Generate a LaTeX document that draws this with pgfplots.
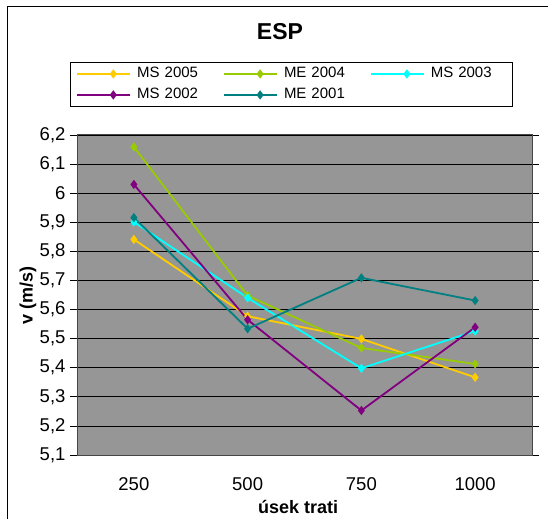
\documentclass[border=0pt]{standalone}
\usepackage{pgfplots}
\pgfplotsset{compat=1.18}
\usepackage{fontspec}
\setmainfont{Liberation Sans}
\definecolor{cMSa}{HTML}{FFCC00}
\definecolor{cMEb}{HTML}{99CC00}
\definecolor{cMSc}{HTML}{00FFFF}
\definecolor{cMSd}{HTML}{800080}
\definecolor{cMEe}{HTML}{008080}
\definecolor{plotgray}{HTML}{969696}
\begin{document}
\begin{tikzpicture}
\useasboundingbox (0pt,0pt) rectangle (548pt,519pt);
\draw[line width=1pt,black] (7pt,0pt) -- (7pt,512pt) -- (548pt,512pt);
\begin{axis}[
  at={(77pt,64pt)}, anchor=south west,
  scale only axis, width=455pt, height=320pt,
  xmin=-0.5, xmax=3.5, ymin=5.1, ymax=6.2,
  xtick={0,1,2,3}, xticklabels={250,500,750,1000},
  ytick={5.1,5.2,5.3,5.4,5.5,5.6,5.7,5.8,5.9,6.0,6.1,6.2},
  /pgf/number format/.cd, use comma, fixed, precision=1, assume math mode=true,
  /pgfplots/.cd,
  tick align=outside, major tick length=7pt,
  major x tick style={draw=none},
  major y tick style={black, line width=0.8pt},
  ymajorgrids, grid style={black, line width=0.8pt},
  axis background/.style={fill=plotgray},
  axis line style={draw=gray!55!black, line width=1pt},
  every tick label/.append style={font=\fontsize{18.5}{21}\selectfont},
  yticklabel style={xshift=-1pt},
  xticklabel style={yshift=-12pt},
  title={ESP},
  title style={font=\fontsize{23}{26}\selectfont\bfseries, at={(0.446,1.303)}, anchor=center},
  xlabel={úsek trati},
  xlabel style={font=\fontsize{18}{21}\selectfont\bfseries, at={(0.486,-0.1625)}, anchor=center},
  ylabel={v (m/s)},
  ylabel style={font=\fontsize{18}{21}\selectfont\bfseries, at={(-0.108,0.5)}, anchor=center, rotate=0},
  legend columns=3,
  legend image code/.code={
    \path (0pt,0pt) -- (53pt,0pt);
    \draw[mark repeat=2,mark phase=2,#1] plot coordinates {(19pt,0pt) (36pt,0pt) (53pt,0pt)};
  },
  legend style={
    at={(-0.01538,1.228)}, anchor=north west,
    draw=black, line width=0.8pt, fill=white,
    inner xsep=6pt, inner ysep=2.5pt,
    font=\fontsize{15}{18}\selectfont,
    row sep=3pt,
    nodes={inner xsep=3pt, inner ysep=2pt, text width=73pt, text height=11pt, text depth=3pt, align=left},
    /tikz/every odd column/.append style={column sep=3pt},
    /tikz/every even column/.append style={column sep=10pt},
  },
  every axis plot/.append style={line width=1.8pt, mark=diamond*, mark size=3.2pt, mark options={solid}},
]
\addplot[color=cMSa] coordinates {(0,5.841) (1,5.577) (2,5.499) (3,5.367)};
\addlegendentry{MS 2005}
\addplot[color=cMEb] coordinates {(0,6.159) (1,5.648) (2,5.468) (3,5.413)};
\addlegendentry{ME 2004}
\addplot[color=cMSc] coordinates {(0,5.901) (1,5.640) (2,5.398) (3,5.526)};
\addlegendentry{MS 2003}
\addplot[color=cMSd] coordinates {(0,6.030) (1,5.565) (2,5.253) (3,5.539)};
\addlegendentry{MS 2002}
\addplot[color=cMEe] coordinates {(0,5.916) (1,5.534) (2,5.709) (3,5.631)};
\addlegendentry{ME 2001}
\end{axis}
\end{tikzpicture}
\end{document}
